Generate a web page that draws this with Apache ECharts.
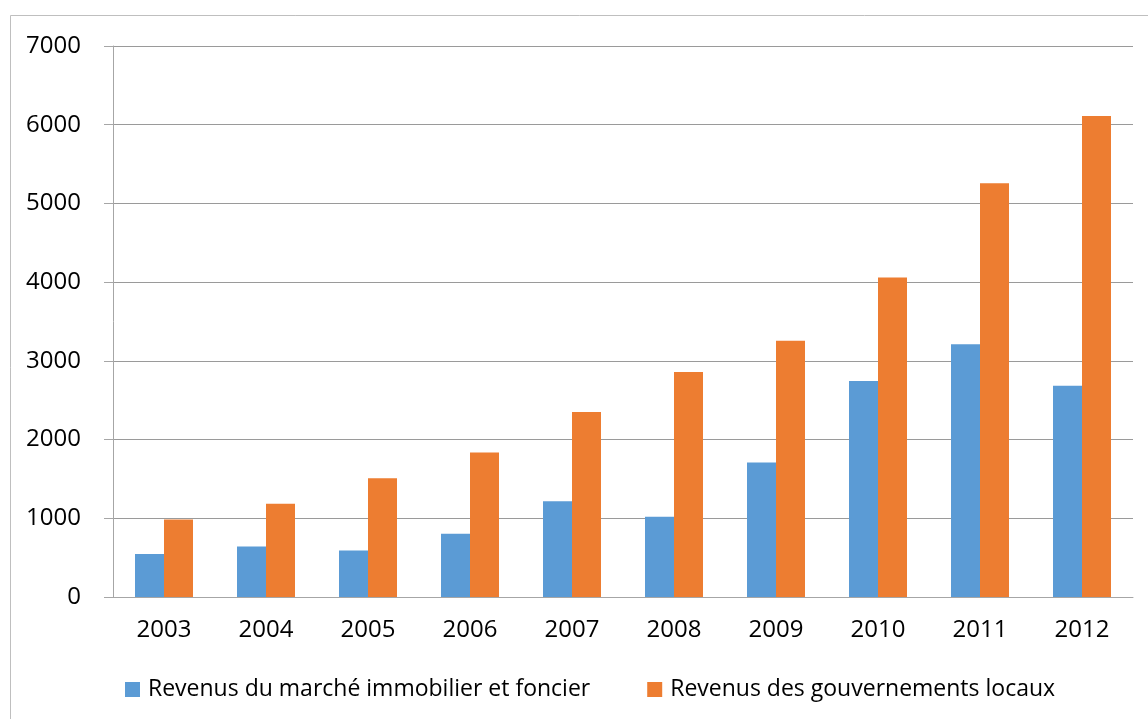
<!DOCTYPE html>
<html>
<head>
<meta charset="utf-8">
<script src="https://cdn.jsdelivr.net/npm/echarts@6/dist/echarts.min.js"></script>
<style>
  html, body { margin: 0; padding: 0; background: #fff; }
  #chart { width: 1148px; height: 719px; }
</style>
</head>
<body>
<div id="chart"></div>
<script>
const years = ['2003', '2004', '2005', '2006', '2007', '2008', '2009', '2010', '2011', '2012'];
const marketRevenue = [545, 640, 590, 805, 1215, 1020, 1710, 2745, 3210, 2685];
const localGovRevenue = [985, 1185, 1510, 1835, 2350, 2860, 3255, 4060, 5255, 6110];
const seriesNames = ['Revenus du marché immobilier et foncier', 'Revenus des gouvernements locaux'];

const chart = echarts.init(document.getElementById('chart'));
const axisGray = '#a6a6a6';
const font = 'Open Sans';

const option = {
    backgroundColor: '#fff',
    animation: false,
    graphic: [
        {
            type: 'rect',
            shape: { x: 10.5, y: 15.5, width: 1200, height: 800 },
            style: { fill: 'none', stroke: '#bfbfbf', lineWidth: 1 },
            silent: true,
        },
    ],
    grid: { left: 113, right: 15, top: 46, bottom: 122 },
    legend: {
        data: seriesNames,
        left: 120,
        top: 673,
        itemWidth: 15,
        itemHeight: 15,
        itemGap: 57,
        icon: 'rect',
        textStyle: { fontFamily: font, fontSize: 23, color: '#000', padding: [0, 0, 0, 3] },
    },
    xAxis: {
        type: 'category',
        data: years,
        axisLine: { lineStyle: { color: axisGray, width: 1 } },
        axisTick: { length: 8, lineStyle: { color: axisGray } },
        axisLabel: { fontFamily: font, fontSize: 24, color: '#000', margin: 21 },
    },
    yAxis: {
        type: 'value',
        min: 0,
        max: 7000,
        interval: 1000,
        axisLine: { show: true, lineStyle: { color: axisGray, width: 1 } },
        axisTick: { show: true, length: 9, lineStyle: { color: axisGray } },
        axisLabel: {
            fontFamily: font,
            fontSize: 24,
            color: '#000',
            margin: 32,
            formatter: (v) => String(v),
        },
        splitLine: { lineStyle: { color: '#9a9a9a', width: 1 } },
    },
    series: [
        {
            name: seriesNames[0],
            type: 'bar',
            barWidth: 29,
            barGap: '0%',
            itemStyle: { color: '#5B9BD5' },
            data: marketRevenue,
        },
        {
            name: seriesNames[1],
            type: 'bar',
            barWidth: 29,
            barGap: '0%',
            itemStyle: { color: '#ED7D31' },
            data: localGovRevenue,
        },
    ],
};

chart.setOption(option);
</script>
</body>
</html>
